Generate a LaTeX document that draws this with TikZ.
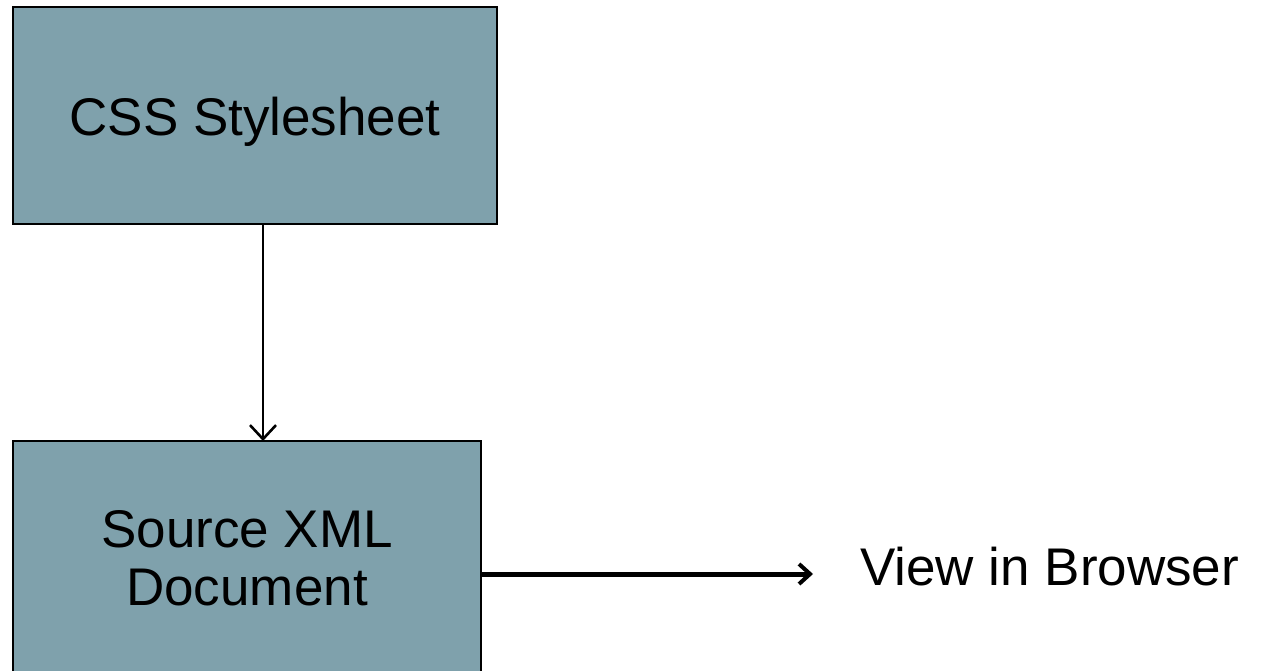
\documentclass[tikz,border=0pt]{standalone}
\usepackage{fontspec}
\setmainfont{Liberation Sans}
\usetikzlibrary{arrows.meta}
\definecolor{boxfill}{HTML}{7FA1AC}
\tikzset{
  stagebox/.style={draw=black, line width=2pt, fill=boxfill},
  label/.style={font=\fontsize{53}{58}\selectfont, align=center, inner sep=0pt},
  flow/.style={line width=2.4pt, -{Straight Barb[length=14pt, width=26pt, line width=2.6pt]}},
  bigflow/.style={line width=5pt, -{Straight Barb[length=11pt, width=20pt, line width=4pt]}}
}
\begin{document}
\begin{tikzpicture}[x=1pt, y=-1pt]
  \useasboundingbox (0,0) rectangle (1263,671);
  \clip (0,0) rectangle (1263,671);
  \fill[white] (0,0) rectangle (1263,671);
  % stylesheet box
  \draw[stagebox] (13,7) rectangle (497,224);
  \node[label] (css) at (255,122) {CSS Stylesheet};
  \coordinate (cssbot) at (263,224);
  % source document box (runs past the lower edge)
  \draw[stagebox] (13,441) rectangle (481,700);
  \node[label] (src) at (247,558) {Source XML\\Document};
  \coordinate (srctop) at (263,441);
  \coordinate (srcright) at (481,574);
  % output
  \node[label, anchor=west] (view) at (860,567) {View in Browser};
  \coordinate (viewin) at (813,574);
  \draw[flow] (cssbot) -- (srctop);
  \draw[bigflow] (srcright) -- (viewin);
\end{tikzpicture}
\end{document}
